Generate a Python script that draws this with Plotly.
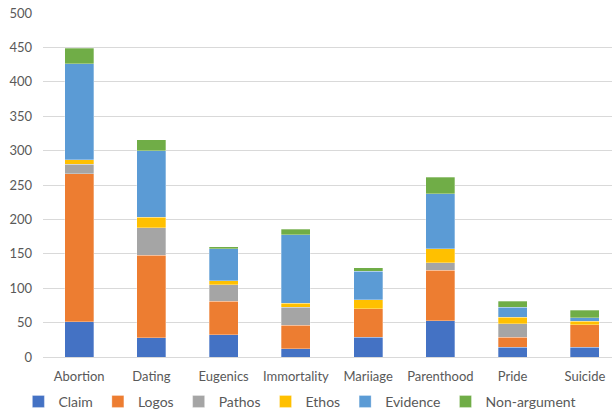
import plotly.graph_objects as go

categories = ["Abortion", "Dating", "Eugenics", "Immortality", "Mariiage", "Parenthood", "Pride", "Suicide"]
claim = [51, 28, 32, 12, 29, 53, 14, 14]
logos = [215, 120, 49, 34, 41, 73, 15, 33]
pathos = [14, 40, 24, 26, 0, 11, 19, 0]
ethos = [7, 15, 6, 6, 13, 20, 10, 5]
evidence = [139, 97, 46, 100, 42, 80, 14, 5]
non_argument = [23, 16, 3, 8, 5, 24, 9, 11]

series = [
    ("Claim", claim, "#4472C4"),
    ("Logos", logos, "#ED7D31"),
    ("Pathos", pathos, "#A5A5A5"),
    ("Ethos", ethos, "#FFC000"),
    ("Evidence", evidence, "#5B9BD5"),
    ("Non-argument", non_argument, "#70AD47"),
]

fig = go.Figure()
for name, vals, color in series:
    fig.add_trace(go.Bar(
        x=categories, y=vals, name=name,
        marker=dict(color=color, line=dict(color="rgba(255,255,255,0.5)", width=0.6)),
    ))

font_family = "Lato, Open Sans, sans-serif"
fig.update_layout(
    barmode="stack",
    bargap=0.6,
    width=612, height=413,
    margin=dict(l=43, r=0, t=13, b=56),
    paper_bgcolor="white",
    plot_bgcolor="white",
    font=dict(family=font_family, size=13, color="#595959"),
    showlegend=True,
    legend=dict(
        orientation="h",
        xref="container", yref="container",
        x=0.49, xanchor="center",
        y=0.027, yanchor="middle",
        font=dict(size=14, color="#595959"),
        traceorder="normal",
        itemwidth=30,
        tracegroupgap=0,
    ),
    xaxis=dict(
        range=[-0.5, 7.375],
        showgrid=False,
        showline=False,
        ticks="",
        tickfont=dict(size=13, color="#595959"),
        ticklabelstandoff=10,
    ),
    yaxis=dict(
        range=[0, 500],
        tickvals=list(range(0, 501, 50)),
        showgrid=True,
        gridcolor="#D9D9D9",
        gridwidth=1,
        zeroline=True,
        zerolinecolor="#D9D9D9",
        zerolinewidth=1,
        showline=False,
        ticks="",
        tickfont=dict(size=13, color="#595959"),
        ticklabelstandoff=10,
    ),
)

fig.write_html("out.html")
